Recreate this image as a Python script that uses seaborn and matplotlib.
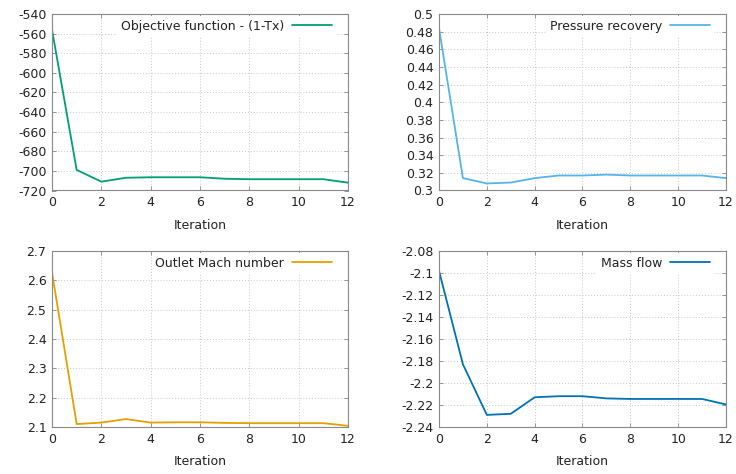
import matplotlib
matplotlib.use("Agg")
import matplotlib.pyplot as plt
import seaborn as sns
import pandas as pd
import numpy as np

iterations = list(range(13))
objective = [-556, -699, -711, -707, -706.5, -706.5, -706.5, -708, -708.5, -708.5, -708.5, -708.5, -712]
pressure_recovery = [0.484, 0.314, 0.308, 0.309, 0.314, 0.317, 0.317, 0.318, 0.317, 0.317, 0.317, 0.317, 0.314]
outlet_mach = [2.627, 2.110, 2.115, 2.127, 2.115, 2.116, 2.116, 2.114, 2.113, 2.113, 2.113, 2.113, 2.104]
mass_flow = [-2.098, -2.183, -2.229, -2.228, -2.213, -2.212, -2.212, -2.214, -2.2145, -2.2145, -2.2145, -2.2145, -2.2195]

labels = ["Objective function - (1-Tx)", "Pressure recovery", "Outlet Mach number", "Mass flow"]
colors = ["#009e73", "#56b4e9", "#e69f00", "#0072b2"]
ylims = [(-720, -540), (0.3, 0.5), (2.1, 2.7), (-2.24, -2.08)]
ysteps = [20, 0.02, 0.1, 0.02]
series = [objective, pressure_recovery, outlet_mach, mass_flow]

sns.set_style("white")
plt.rcParams['font.family'] = ['DejaVu Sans']

W, H = 736, 474
fig = plt.figure(figsize=(W / 100, H / 100), dpi=100)
boxes = [
    (52, 14, 348, 190.5),
    (439, 14, 726, 190.5),
    (52, 251, 348, 427),
    (439, 251, 726, 427),
]

for i, (x0, y0, x1, y1) in enumerate(boxes):
    w, h = x1 - x0, y1 - y0
    ax = fig.add_axes([x0 / W, 1 - y1 / H, w / W, h / H])
    df = pd.DataFrame({"Iteration": iterations, "value": series[i]})
    sns.lineplot(data=df, x="Iteration", y="value", ax=ax, color=colors[i],
                 linewidth=1.3, label=labels[i])
    ax.set_xlim(0, 12)
    ax.set_ylim(*ylims[i])
    ax.set_xticks(np.arange(0, 13, 2))
    lo, hi = ylims[i]
    ticks = np.arange(lo, hi + ysteps[i] / 2, ysteps[i])
    ax.set_yticks(ticks)
    ax.set_yticklabels([f"{t:g}" for t in np.round(ticks, 4)])
    ax.set_ylabel("")
    ax.set_xlabel("Iteration", fontsize=9, color="#222222", labelpad=7)
    ax.grid(True, color="#c8c8c8", linestyle=(0, (1, 2)), linewidth=0.7)
    ax.tick_params(direction="in", length=3, width=0.6, colors="#888888",
                   labelcolor="#222222", labelsize=9, top=True, right=True,
                   bottom=True, left=True, pad=4)
    for s in ax.spines.values():
        s.set_color("#888888")
        s.set_linewidth(0.8)
    leg = ax.legend(loc="upper right", bbox_to_anchor=(1 - 12 / w, 1 - 2 / h),
                    markerfirst=False, frameon=True,
                    fontsize=9, handlelength=3.2, borderaxespad=0.0,
                    borderpad=0.3, handletextpad=0.65, fancybox=False)
    leg.get_frame().set_facecolor("white")
    leg.get_frame().set_edgecolor("none")
    leg.get_frame().set_alpha(1.0)
    for t in leg.get_texts():
        t.set_color("#222222")

fig.savefig("out.png", dpi=100)
